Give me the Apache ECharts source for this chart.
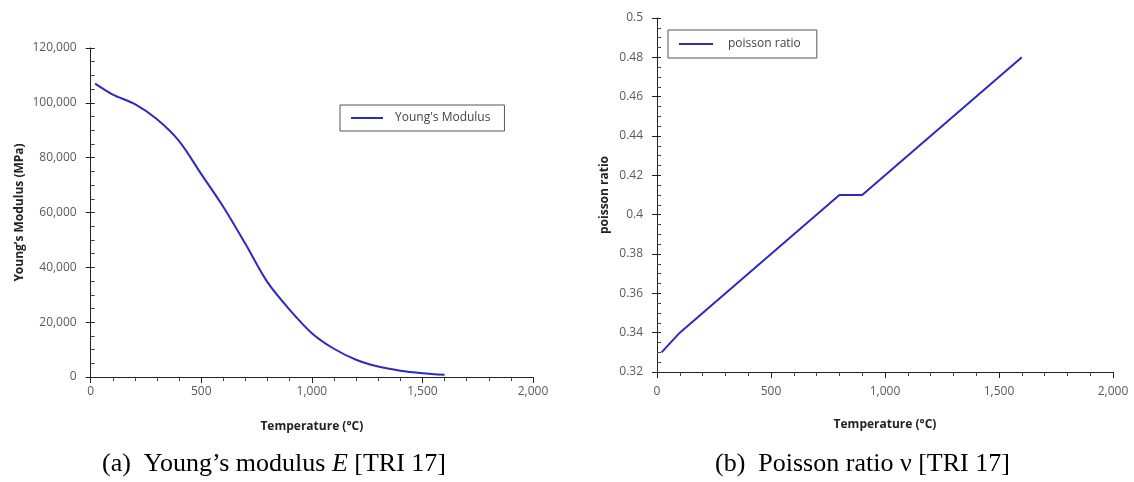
<!DOCTYPE html>
<html>
<head>
<meta charset="utf-8">
<script src="https://cdn.jsdelivr.net/npm/echarts@6/dist/echarts.min.js"></script>
<style>
html,body{margin:0;padding:0;background:#fff;}
#c{width:1134px;height:482px;}
</style>
</head>
<body>
<div id="c"></div>
<script>
// Young's modulus data (Temperature °C, MPa)
const youngTemps = [20, 100, 200, 300, 400, 500, 600, 700, 800, 900, 1000, 1100, 1200, 1300, 1400, 1500, 1600];
const youngValues = [107000, 103000, 99500, 94000, 86000, 74000, 62000, 48500, 34500, 24500, 16000, 10300, 6300, 3800, 2300, 1400, 800];
// Poisson ratio data
const poissonTemps = [20, 100, 800, 900, 1600];
const poissonValues = [0.33, 0.34, 0.41, 0.41, 0.48];
const youngSeriesName = "Young's Modulus";
const poissonSeriesName = 'poisson ratio';
const captionA = ['(a)  Young\u2019s modulus ', 'E', ' [TRI 17]'];
const captionB = '(b)  Poisson ratio \u03bd [TRI 17]';

const lineColor = '#2b2bbf';
const labelColor = '#5a5a5a';
const font = '"Open Sans", "Noto Sans", sans-serif';
const serif = '"Liberation Serif", "DejaVu Serif", serif';
const fmt = v => Number(v).toLocaleString('en-US');

function xAxis(gridIndex, labelMargin, nameGap) {
  return {
    type: 'value', gridIndex, min: 0, max: 2000, interval: 500,
    name: 'Temperature (\u00b0C)', nameLocation: 'middle', nameGap,
    nameTextStyle: {fontFamily: font, fontWeight: 'bold', fontSize: 12, color: '#222'},
    axisLine: {onZero: false, lineStyle: {color: '#222', width: 1}},
    axisTick: {show: true, length: 6, lineStyle: {color: '#222'}},
    minorTick: {show: true, splitNumber: 5, length: 4, lineStyle: {color: '#444'}},
    splitLine: {show: false},
    axisLabel: {color: labelColor, fontFamily: font, fontSize: 12, margin: labelMargin, formatter: fmt}
  };
}
function yAxes(gridIndex, min, max, interval, name, nameGap, formatter, labelMargin) {
  return [{
    type: 'value', gridIndex, min, max, interval, position: 'left',
    name, nameLocation: 'middle', nameGap, nameRotate: 90,
    nameTextStyle: {fontFamily: font, fontWeight: 'bold', fontSize: 12, color: '#222'},
    axisLine: {show: true, onZero: false, lineStyle: {color: '#222', width: 1}},
    axisTick: {show: true, inside: true, length: 4, lineStyle: {color: '#222'}},
    minorTick: {show: true, splitNumber: 4, length: 4, lineStyle: {color: '#444'}},
    splitLine: {show: false},
    axisLabel: {show: false}
  }, {
    type: 'value', gridIndex, min, max, interval, position: 'left', offset: 0,
    axisLine: {show: false, onZero: false},
    axisTick: {show: true, length: 5, lineStyle: {color: '#222'}},
    splitLine: {show: false},
    axisLabel: {color: labelColor, fontFamily: font, fontSize: 12, margin: labelMargin, formatter}
  }];
}

const chart = echarts.init(document.getElementById('c'), null, {renderer: 'canvas'});
const y0 = yAxes(0, 0, 120000, 20000, 'Young\u2019s Modulus (MPa)', 65, fmt, 14);
const y1 = yAxes(1, 0.32, 0.5, 0.02, 'poisson ratio', 46, v => String(+v.toFixed(2)), 14);

chart.setOption({
  animation: false,
  backgroundColor: '#fff',
  grid: [
    {left: 90.7, top: 48, width: 442.3, height: 329, outerBoundsMode: 'none', containLabel: false},
    {left: 657, top: 18, width: 456, height: 354, outerBoundsMode: 'none', containLabel: false}
  ],
  xAxis: [xAxis(0, 9, 44), xAxis(1, 14, 47)],
  yAxis: [y0[0], y0[1], y1[0], y1[1]],
  legend: [{
    data: [youngSeriesName], left: 340, top: 105, orient: 'horizontal',
    borderColor: '#555', borderWidth: 1, padding: [7, 14, 7, 11], itemGap: 0,
    itemWidth: 32, itemHeight: 2, icon: 'rect', itemStyle: {color: lineColor},
    textStyle: {fontFamily: font, fontSize: 12, color: '#444', padding: [0, 0, 0, 7]}
  }, {
    data: [poissonSeriesName], left: 668, top: 30,
    borderColor: '#555', borderWidth: 1, padding: [8, 16, 8, 11], itemGap: 0,
    itemWidth: 34, itemHeight: 2, icon: 'rect', itemStyle: {color: lineColor},
    textStyle: {fontFamily: font, fontSize: 12, color: '#444', padding: [0, 0, 0, 10]}
  }],
  series: [{
    name: youngSeriesName, type: 'line', xAxisIndex: 0, yAxisIndex: 0,
    data: youngTemps.map((t, i) => [t, youngValues[i]]),
    smooth: 0.3, showSymbol: false, symbol: 'none',
    lineStyle: {color: lineColor, width: 2}, itemStyle: {color: lineColor}
  }, {
    name: poissonSeriesName, type: 'line', xAxisIndex: 1, yAxisIndex: 2,
    data: poissonTemps.map((t, i) => [t, poissonValues[i]]),
    showSymbol: false, symbol: 'none',
    lineStyle: {color: lineColor, width: 2}, itemStyle: {color: lineColor}
  }],
  graphic: [{
    type: 'text', x: 102, y: 464,
    style: {
      text: '{n|' + captionA[0] + '}{i|' + captionA[1] + '}{n|' + captionA[2] + '}',
      verticalAlign: 'middle',
      rich: {
        n: {fontFamily: serif, fontSize: 26, fill: '#000'},
        i: {fontFamily: serif, fontSize: 26, fontStyle: 'italic', fill: '#000'}
      }
    }
  }, {
    type: 'text', x: 715, y: 464,
    style: {text: captionB, fontFamily: serif, fontSize: 26, fill: '#000', verticalAlign: 'middle'}
  }]
});
</script>
</body>
</html>
